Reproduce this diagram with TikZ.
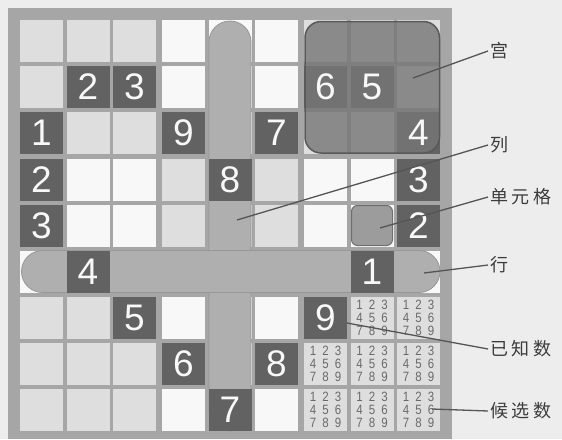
\documentclass[tikz,border=0pt]{standalone}
\usepackage{fontspec}
\setmainfont{Liberation Sans}
\newfontfamily\cjkfont[LetterSpace=20]{Noto Sans CJK SC}
\definecolor{paper}{HTML}{EDEDED}
\definecolor{framegray}{HTML}{A6A6A6}
\definecolor{lightcell}{HTML}{DEDEDE}
\definecolor{whitecell}{HTML}{F8F8F8}
\definecolor{givencell}{HTML}{626262}
\definecolor{bandgray}{HTML}{AFAFAF}
\definecolor{bandedge}{HTML}{979797}
\definecolor{boxgray}{HTML}{767676}
\definecolor{boxedge}{HTML}{595959}
\definecolor{pickgray}{HTML}{9C9C9C}
\definecolor{pickedge}{HTML}{6E6E6E}
\definecolor{candgray}{HTML}{6A6A6A}
\definecolor{labelgray}{HTML}{3C3C3C}
\definecolor{leadgray}{HTML}{555555}
% left and top edge of a cell, index from 0
\newcommand{\colx}[1]{(20+(#1)*46.5+int((#1)/3)*2.5)}
\newcommand{\rowy}[1]{(20+(#1)*46+int((#1)/3)*0.5)}
\begin{document}
\begin{tikzpicture}[
  x=1pt,y=-1pt,
  band/.style={fill=bandgray, draw=bandedge, line width=0.8pt, rounded corners=21pt},
  given/.style={text=whitecell, inner sep=0, font=\fontsize{37}{37}\selectfont},
  cand/.style={text=candgray, inner sep=0, font=\fontsize{13.5}{13.5}\selectfont},
  tag/.style={text=labelgray, anchor=west, inner sep=2pt, font=\cjkfont\fontsize{18}{18}\selectfont},
  lead/.style={leadgray, line width=1.3pt}
]
\fill[paper] (0,0) rectangle (562,439);
\useasboundingbox (0,0) rectangle (562,439);
\fill[framegray] (8,8) rectangle (452,439);

\foreach \i in {0,...,8}
  \foreach \j in {0,...,8}{
    \pgfmathtruncatemacro{\shade}{mod(int(\i/3)+int(\j/3),2)}
    \ifnum\shade=0 \def\cellcol{lightcell}\else\def\cellcol{whitecell}\fi
    \fill[\cellcol] ({\colx{\i}},{\rowy{\j}}) rectangle ++(43,42);
  }

% row and column
\draw[band] ({\colx{4}+0.5},21) rectangle ++(42,410);
\draw[band] (21.5,{\rowy{5}}) rectangle (440,{\rowy{5}+42});

\foreach \c/\r in {2/2,3/2,7/2,8/2,1/3,4/3,6/3,9/3,1/4,5/4,9/4,1/5,9/5,
  2/6,8/6,3/7,7/7,4/8,6/8,5/9}
  \fill[givencell] ({\colx{\c-1}},{\rowy{\r-1}}) rectangle ++(43,42);

% box and cell
\draw[boxedge, line width=1.5pt, fill=boxgray, fill opacity=0.8, rounded corners=16pt]
  (305,21.5) rectangle (439.5,153);
\draw[pickedge, line width=1pt, fill=pickgray, rounded corners=6pt]
  ({\colx{7}+1},{\rowy{4}+1}) rectangle ++(41,40);

\foreach \c/\r/\d in {2/2/2,3/2/3,7/2/6,8/2/5,1/3/1,4/3/9,6/3/7,9/3/4,1/4/2,5/4/8,
  9/4/3,1/5/3,9/5/2,2/6/4,8/6/1,3/7/5,7/7/9,4/8/6,6/8/8,5/9/7}
  \node[given] (g\c\r) at ({\colx{\c-1}+21.5},{\rowy{\r-1}+21}) {\d};

\foreach \c/\r in {8/7,9/7,7/8,8/8,9/8,7/9,8/9,9/9}
  \foreach \k in {1,...,9}
    \node[cand] (k\c\r\k) at ({\colx{\c-1}+21.5+(mod(\k-1,3)-1)*12.5},
      {\rowy{\r-1}+21+(int((\k-1)/3)-1)*13}) {\scalebox{0.85}[1]{\k}};

\coordinate (boxpt) at (413,78);
\coordinate (colpt) at (237,220);
\coordinate (cellpt) at (380,228);
\coordinate (rowpt) at (424,273);
\coordinate (givenpt) at (347,323);
\coordinate (candpt) at (432,409);

\node[tag] (boxlbl) at (488,51) {宫};
\node[tag] (collbl) at (488,145) {列};
\node[tag] (celllbl) at (488,197) {单元格};
\node[tag] (rowlbl) at (488,265) {行};
\node[tag] (givenlbl) at (488,349) {已知数};
\node[tag] (candlbl) at (488,411) {候选数};

\draw[lead] (boxpt) -- (boxlbl.west);
\draw[lead] (colpt) -- (collbl.west);
\draw[lead] (cellpt) -- (celllbl.west);
\draw[lead] (rowpt) -- (rowlbl.west);
\draw[lead] (givenpt) -- (givenlbl.west);
\draw[lead] (candpt) -- (candlbl.west);
\end{tikzpicture}
\end{document}
